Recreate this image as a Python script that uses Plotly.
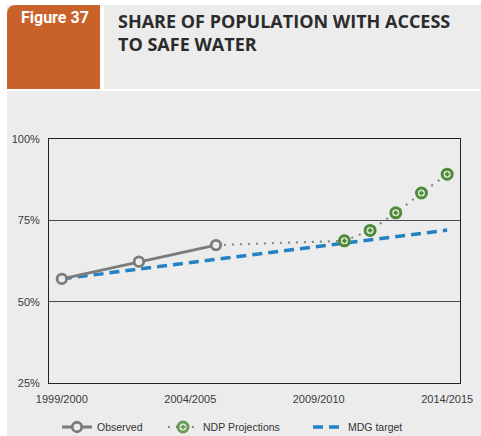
import plotly.graph_objects as go

# ---- data ----
years = ["1999/2000", "2000/2001", "2001/2002", "2002/2003", "2003/2004",
         "2004/2005", "2005/2006", "2006/2007", "2007/2008", "2008/2009",
         "2009/2010", "2010/2011", "2011/2012", "2012/2013", "2013/2014",
         "2014/2015"]
tick_years = ["1999/2000", "2004/2005", "2009/2010", "2014/2015"]
y_ticks = [25, 50, 75, 100]
y_tick_labels = ["25%", "50%", "75%", "100%"]

observed_x = ["1999/2000", "2002/2003", "2005/2006"]
observed_y = [57.0, 62.3, 67.4]

ndp_x = ["2005/2006", "2010/2011", "2011/2012", "2012/2013", "2013/2014", "2014/2015"]
ndp_y = [67.4, 68.7, 71.9, 77.3, 83.4, 89.2]
ndp_marker_show = [False, True, True, True, True, True]

mdg_x = ["1999/2000", "2014/2015"]
mdg_y = [57.0, 72.0]

# ---- layout helpers (pixel -> paper) ----
W, H = 481, 436
L, R, T, B = 49, 21, 139, 53
PW, PH = W - L - R, H - T - B

def px(x):
    return (x - L) / PW

def py(y):
    return (H - B - y) / PH

fig = go.Figure()

fig.add_trace(go.Scatter(
    x=mdg_x, y=mdg_y, mode="lines", name="MDG target", legend="legend3",
    line=dict(color="#2581c4", width=3.5, dash="10px,6px"),
))
fig.add_trace(go.Scatter(
    x=ndp_x, y=ndp_y, mode="lines+markers", name="NDP Projections",
    legend="legend2",
    line=dict(color="#8a8a76", width=2.2, dash="2px,6px"),
    marker=dict(symbol="circle-dot", size=10,
                color="#e4eed8",
                opacity=[1 if s else 0 for s in ndp_marker_show],
                line=dict(color="#4e8a3c", width=3)),
))
fig.add_trace(go.Scatter(
    x=observed_x, y=observed_y, mode="lines+markers", name="Observed",
    legend="legend",
    line=dict(color="#7b7b7b", width=2.8),
    marker=dict(symbol="circle", size=9.5, color="#ececec",
                line=dict(color="#7b7b7b", width=2.8)),
))

shapes = [
    # grey panel
    dict(type="rect", xref="paper", yref="paper", layer="below",
         x0=px(7), x1=px(481), y0=py(436), y1=py(5),
         fillcolor="#ececec", line=dict(width=0)),
    # orange box
    dict(type="path", xref="paper", yref="paper", layer="below",
         path=(f"M {px(7)},{py(89)} L {px(7)},{py(14)} "
               f"Q {px(7)},{py(5)} {px(16)},{py(5)} "
               f"L {px(100)},{py(5)} L {px(100)},{py(89)} Z"),
         fillcolor="#c9622a", line=dict(width=0)),
    # white separators
    dict(type="rect", xref="paper", yref="paper", layer="below",
         x0=px(100), x1=px(104), y0=py(89), y1=py(5),
         fillcolor="#ffffff", line=dict(width=0)),
    dict(type="rect", xref="paper", yref="paper", layer="below",
         x0=px(7), x1=px(481), y0=py(91), y1=py(89),
         fillcolor="#ffffff", line=dict(width=0)),
]

annotations = [
    dict(text="<b>Figure 37</b>", xref="paper", yref="paper",
         x=px(55), y=py(18), xanchor="center", yanchor="middle",
         showarrow=False,
         font=dict(family="Liberation Sans Narrow, Roboto, sans-serif",
                   size=16, color="#ffffff")),
    dict(text="SHARE OF POPULATION WITH ACCESS<br>TO SAFE WATER",
         xref="paper", yref="paper", x=px(116), y=py(7),
         xanchor="left", yanchor="top", align="left", showarrow=False,
         font=dict(family="Open Sans, sans-serif", size=18,
                   color="#2b2b2b", weight=700)),
]

def legend_at(left_px):
    return dict(orientation="h", x=px(left_px), xanchor="left",
                y=py(427), yanchor="middle",
                bgcolor="rgba(0,0,0,0)", borderwidth=0,
                font=dict(size=10.5, color="#333333"),
                itemwidth=30)

fig.update_layout(
    width=W, height=H,
    margin=dict(l=L, r=R, t=T, b=B, autoexpand=False),
    paper_bgcolor="#ffffff",
    plot_bgcolor="#ececec",
    shapes=shapes,
    annotations=annotations,
    font=dict(family="Liberation Sans, Arial, sans-serif", size=10.5, color="#333333"),
    showlegend=True,
    legend=legend_at(57),
    legend2=legend_at(163),
    legend3=legend_at(308),
    xaxis=dict(
        type="category", categoryorder="array", categoryarray=years,
        range=[-0.5, 15.5], automargin=False,
        tickmode="array", tickvals=tick_years, ticktext=tick_years,
        tickfont=dict(size=11, color="#3a3a3a"),
        showgrid=False, showline=True, linecolor="#222222", linewidth=1,
        mirror=True, ticks="", ticklabelstandoff=6, zeroline=False,
        fixedrange=True,
    ),
    yaxis=dict(
        range=[25, 100], tickmode="array", tickvals=y_ticks,
        ticktext=y_tick_labels, automargin=False,
        tickfont=dict(size=11, color="#3a3a3a"),
        showgrid=True, gridcolor="#4a4a4a", gridwidth=1.3,
        showline=True, linecolor="#222222", linewidth=1, mirror=True,
        ticks="", ticklabelstandoff=6, zeroline=False, fixedrange=True,
    ),
)

fig.write_html("out.html", config={"displayModeBar": False},
               post_script="document.body.style.margin='0px';document.body.style.padding='0px';")
